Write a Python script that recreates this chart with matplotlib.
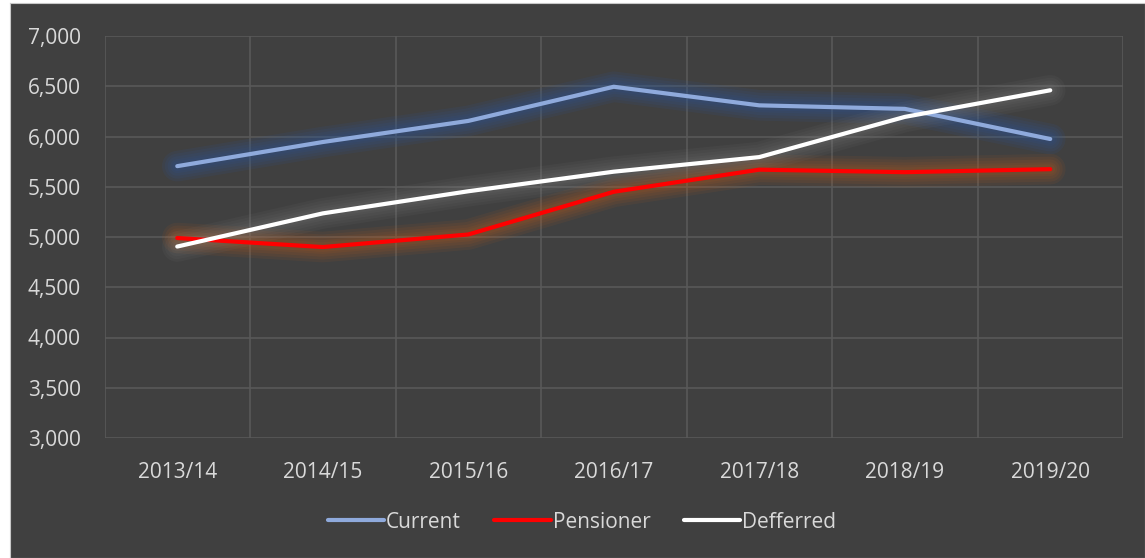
import matplotlib.pyplot as plt
from matplotlib.ticker import FuncFormatter, MultipleLocator

years = ["2013/14", "2014/15", "2015/16", "2016/17", "2017/18", "2018/19", "2019/20"]
current = [5705, 5945, 6155, 6495, 6310, 6275, 5975]
pensioner = [4990, 4900, 5025, 5450, 5670, 5645, 5675]
deferred = [4905, 5235, 5455, 5650, 5795, 6195, 6460]

BG = "#404040"
GRID = "#595959"
TXT = "#d9d9d9"

plt.rcParams['font.family'] = ['Open Sans', 'DejaVu Sans']

fig = plt.figure(figsize=(11.45, 5.58), dpi=100, facecolor="white")

# dark chart area (white strip left and top like the screenshot)
bg = fig.add_axes([10 / 1145, 0, 1 - 10 / 1145, 555 / 558], zorder=-1)
bg.set_facecolor(BG)
bg.set_xticks([])
bg.set_yticks([])
for s in bg.spines.values():
    s.set_color("#c8c8c8")
    s.set_linewidth(0.8)

# title cut off at the top edge, only the descenders show
fig.text(0.36, 1 + 13 / 558, "Membership (Numbers)", ha="center", va="baseline",
         fontsize=17, fontweight="bold", color="black")

ax = fig.add_axes([104.5 / 1145, 1 - 438 / 558, (1123 - 104.5) / 1145, (438 - 36) / 558])
ax.set_facecolor(BG)
x = list(range(len(years)))

# (values, label, line colour, glow colour, glow alpha)
series = [
    (current, "Current", "#8faadc", "#2f5597", 0.13),
    (pensioner, "Pensioner", "#ff0000", "#c5601a", 0.09),
    (deferred, "Defferred", "#ffffff", "#8a8a8a", 0.07),
]

for vals, name, col, glow, a in series:
    for lw in (22, 18, 14, 10, 7):
        ax.plot(x, vals, color=glow, lw=lw, alpha=a, solid_capstyle="round",
                solid_joinstyle="round", zorder=2)
handles = []
for vals, name, col, glow, a in series:
    h, = ax.plot(x, vals, color=col, lw=3, solid_capstyle="round",
                 solid_joinstyle="round", label=name, zorder=3)
    handles.append(h)

ax.set_xlim(-0.5, 6.5)
ax.set_ylim(3000, 7000)
ax.yaxis.set_major_locator(MultipleLocator(500))
ax.yaxis.set_major_formatter(FuncFormatter(lambda v, p: f"{int(v):,}"))
ax.set_xticks(x)
ax.set_xticklabels(years)
ax.set_xticks([i - 0.5 for i in range(len(years) + 1)], minor=True)
ax.grid(axis="y", which="major", color=GRID, lw=1.2, zorder=1)
ax.grid(axis="x", which="minor", color=GRID, lw=1.2, zorder=1)
ax.tick_params(axis="both", which="both", length=0, colors=TXT, labelsize=15)
ax.tick_params(axis="y", pad=17)
ax.tick_params(axis="x", pad=17)
for s in ax.spines.values():
    s.set_visible(False)

leg = fig.legend(handles=handles, loc="center", bbox_to_anchor=(582 / 1145, 1 - 522 / 558),
                 ncol=3, frameon=False, fontsize=15, handlelength=2.7, handletextpad=0.1,
                 columnspacing=1.6)
for t in leg.get_texts():
    t.set_color(TXT)

fig.savefig("out.png", dpi=100, facecolor=fig.get_facecolor())
